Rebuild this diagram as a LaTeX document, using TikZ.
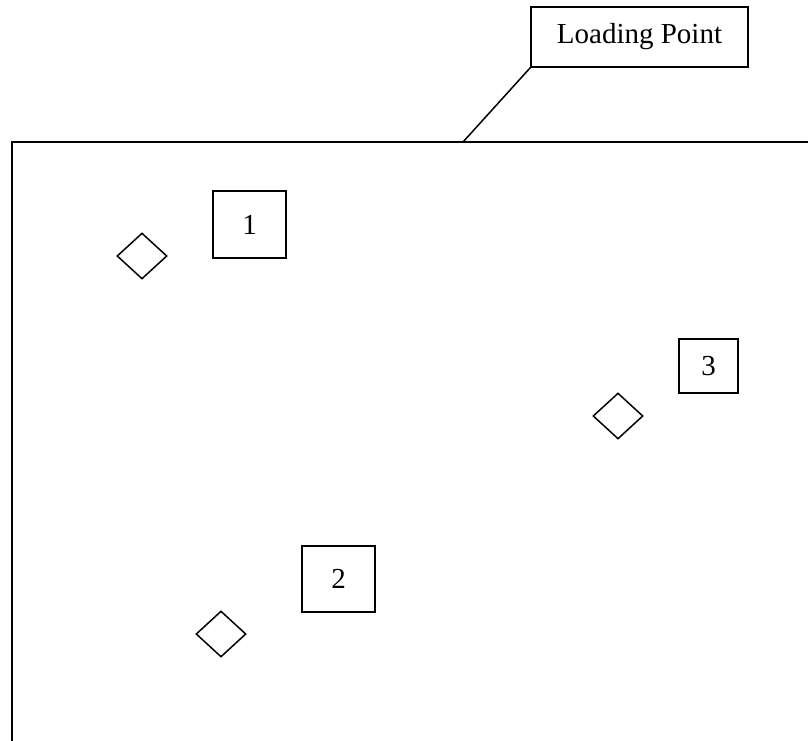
\documentclass[tikz,border=0pt]{standalone}
\usepackage{fontspec}
\setmainfont{Liberation Serif}
\usetikzlibrary{shapes.geometric}
\begin{document}
\begin{tikzpicture}[x=1pt,y=-1pt,line width=1.5pt,
  labelbox/.style={draw,inner sep=0pt,font=\fontsize{29}{34}\selectfont},
  marker/.style={draw,diamond,inner sep=0pt,minimum width=50pt,minimum height=46pt}]
\useasboundingbox (0,0) rectangle (808,741);
\fill[white] (0,0) rectangle (808,741);
% loading area outline (clipped by page)
\draw (12,745) -- (12,142) -- (812,142);
\coordinate (lpfoot) at (463,142);
\node[labelbox,minimum width=217pt,minimum height=60pt] (lp) at (639.5,37) {Loading Point};
\draw (lp.south west) -- (lpfoot);
\node[labelbox,minimum width=73pt,minimum height=67pt] (b1) at (249.5,224.5) {1};
\node[labelbox,minimum width=59pt,minimum height=54pt] (b3) at (708.5,366) {3};
\node[labelbox,minimum width=73pt,minimum height=66pt] (b2) at (338.5,579) {2};
\node[marker] (d1) at (142,256) {};
\node[marker] (d3) at (618,416) {};
\node[marker] (d2) at (221,634) {};
\end{tikzpicture}
\end{document}
